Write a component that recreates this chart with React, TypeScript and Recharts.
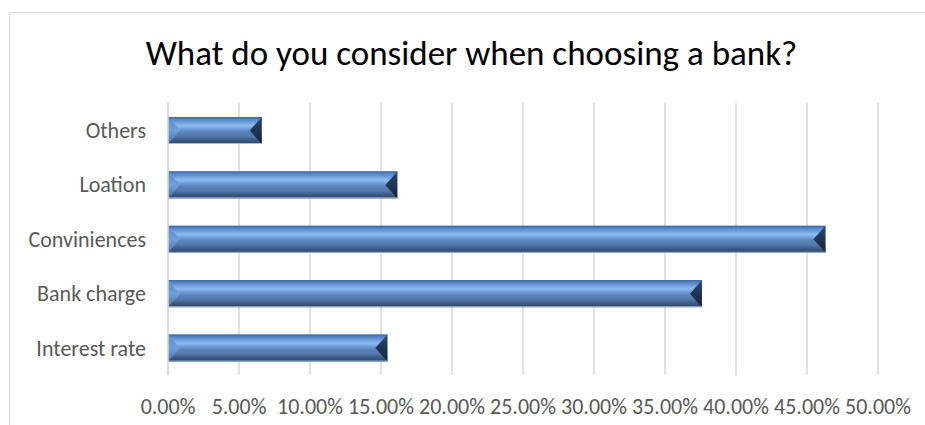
import { BarChart, Bar, XAxis, YAxis, CartesianGrid } from 'recharts'

const categories = ['Others', 'Loation', 'Conviniences', 'Bank charge', 'Interest rate']
const shares = [0.066, 0.1615, 0.463, 0.376, 0.1545]
const xTicks = [0, 0.05, 0.1, 0.15, 0.2, 0.25, 0.3, 0.35, 0.4, 0.45, 0.5]

const data = categories.map((name, i) => ({ name, value: shares[i] }))

const FONT = "Calibri, Carlito, 'Open Sans', sans-serif"

// bevelled bar like Excel's "angle" bevel
const BevelBar = (props: any) => {
  const { x, y, width, height } = props
  if (!width || width <= 0) return null
  const b = Math.min(12, width / 2)
  const mid = y + height / 2
  return (
    <g>
      <rect x={x} y={y} width={width} height={height} fill="url(#barBody)" />
      <polygon
        points={`${x},${y} ${x + b},${mid} ${x},${y + height}`}
        fill="url(#barLeft)"
      />
      <polygon
        points={`${x + width},${y} ${x + width - b},${mid} ${x + width},${y + height}`}
        fill="url(#barRight)"
      />
      <line x1={x} x2={x + width} y1={y + height - 0.5} y2={y + height - 0.5} stroke="#9dbbe3" strokeWidth={1} />
      <line x1={x} x2={x + width} y1={y + 0.5} y2={y + 0.5} stroke="#3d6aa6" strokeWidth={1} />
    </g>
  )
}

export default function App() {
  return (
    <div style={{ position: 'absolute', left: 0, top: 0, width: 925, height: 425, background: '#fff', overflow: 'hidden' }}>
      <div
        style={{
          position: 'absolute',
          left: 9,
          top: 12,
          width: 940,
          height: 440,
          borderTop: '1.5px solid #d9d9d9',
          borderLeft: '1.5px solid #d9d9d9',
        }}
      />
      <div
        style={{
          position: 'absolute',
          left: 9,
          top: 32,
          width: 925,
          textAlign: 'center',
          fontFamily: FONT,
          fontSize: 35,
          color: '#000',
          whiteSpace: 'nowrap',
        }}
      >
        What do you consider when choosing a bank?
      </div>
      <div style={{ position: 'absolute', left: 0, top: 0 }}>
        <BarChart
          width={925}
          height={425}
          data={data}
          layout="vertical"
          margin={{ top: 103, right: 47, bottom: 0, left: 8 }}
          barSize={27}
        >
          <defs>
            <linearGradient id="barBody" x1="0" y1="0" x2="0" y2="1">
              <stop offset="0" stopColor="#4573b0" />
              <stop offset="0.12" stopColor="#5d8ccb" />
              <stop offset="0.32" stopColor="#8dbbf0" />
              <stop offset="0.45" stopColor="#6e9ad4" />
              <stop offset="0.55" stopColor="#5b84bd" />
              <stop offset="0.72" stopColor="#5377a8" />
              <stop offset="0.84" stopColor="#3e5c85" />
              <stop offset="1" stopColor="#2e4566" />
            </linearGradient>
            <linearGradient id="barLeft" x1="0" y1="0" x2="0" y2="1">
              <stop offset="0" stopColor="#5c8ccc" />
              <stop offset="0.5" stopColor="#6f9edb" />
              <stop offset="1" stopColor="#4a74ad" />
            </linearGradient>
            <linearGradient id="barRight" x1="0" y1="0" x2="0" y2="1">
              <stop offset="0" stopColor="#2c4870" />
              <stop offset="0.5" stopColor="#1f3554" />
              <stop offset="1" stopColor="#15243a" />
            </linearGradient>
          </defs>
          <CartesianGrid horizontal={false} stroke="#d9d9d9" strokeWidth={1.5} />
          <XAxis
            type="number"
            domain={[0, 0.5]}
            ticks={xTicks}
            tickFormatter={(v: number) => `${(v * 100).toFixed(2)}%`}
            axisLine={false}
            tickLine={false}
            interval={0}
            tick={{ fill: '#595959', fontSize: 22, fontFamily: FONT }}
            tickMargin={17}
            height={50}
          />
          <YAxis
            type="category"
            dataKey="name"
            width={160}
            axisLine={{ stroke: '#d9d9d9', strokeWidth: 1.5 }}
            tickLine={false}
            tick={{ fill: '#595959', fontSize: 22, fontFamily: FONT }}
            tickMargin={16}
          />
          <Bar dataKey="value" shape={<BevelBar />} isAnimationActive={false} />
        </BarChart>
      </div>
    </div>
  )
}
